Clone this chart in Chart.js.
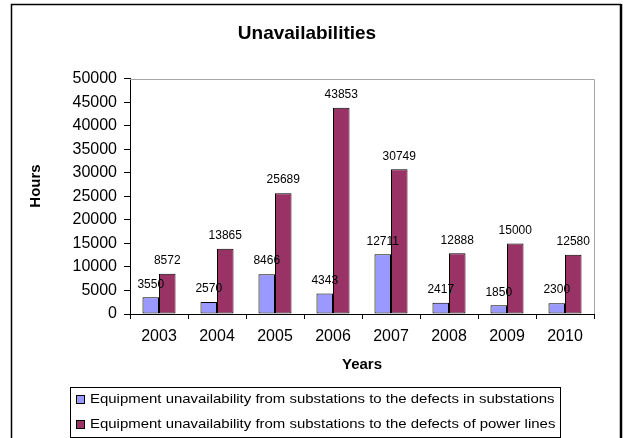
<!DOCTYPE html>
<html>
<head>
<meta charset="utf-8">
<script src="https://cdn.jsdelivr.net/npm/chart.js@4"></script>
<style>
  html, body { margin: 0; padding: 0; background: #fff; }
  #wrap { position: absolute; left: 0; top: 0; width: 624px; height: 438px; }
</style>
</head>
<body>
<div id="wrap"><canvas id="c" width="624" height="438"></canvas></div>
<script>
// Hours of unavailability per year
const years = ['2003', '2004', '2005', '2006', '2007', '2008', '2009', '2010'];
const substationDefects = [3550, 2570, 8466, 4343, 12711, 2417, 1850, 2300];
const powerLineDefects = [8572, 13865, 25689, 43853, 30749, 12888, 15000, 12580];
const seriesNames = [
  'Equipment unavailability from substations to the defects in substations',
  'Equipment unavailability from substations to the defects of power lines'
];
const yMin = 0, yMax = 50000, yStep = 5000;

const FONT = '"Liberation Sans", Arial, sans-serif';

// Outer frame and plot-area outline
const framePlugin = {
  id: 'frame',
  beforeDraw(chart) {
    const ctx = chart.ctx;
    ctx.save();
    ctx.fillStyle = '#fff';
    ctx.fillRect(0, 0, chart.width, chart.height);
    ctx.strokeStyle = '#000';
    ctx.lineWidth = 1.5;
    ctx.beginPath();
    ctx.moveTo(11.5, chart.height + 5);
    ctx.lineTo(11.5, 4.5);
    ctx.lineTo(621, 4.5);
    ctx.stroke();
    ctx.lineWidth = 2.5;
    ctx.beginPath();
    ctx.moveTo(621, 4);
    ctx.lineTo(621, chart.height + 5);
    ctx.stroke();
    ctx.restore();
  },
  beforeDatasetsDraw(chart) {
    const {ctx, chartArea: a} = chart;
    ctx.save();
    ctx.strokeStyle = '#a6a6a6';
    ctx.lineWidth = 1;
    ctx.beginPath();
    ctx.moveTo(a.left, Math.round(a.top) + 0.5);
    ctx.lineTo(Math.round(a.right) + 0.5, Math.round(a.top) + 0.5);
    ctx.lineTo(Math.round(a.right) + 0.5, a.bottom);
    ctx.stroke();
    ctx.restore();
  }
};

// Value labels above every bar
const valueLabels = {
  id: 'valueLabels',
  afterDatasetsDraw(chart) {
    const ctx = chart.ctx;
    ctx.save();
    ctx.font = '12px ' + FONT;
    ctx.fillStyle = '#000';
    ctx.textAlign = 'center';
    ctx.textBaseline = 'middle';
    chart.data.datasets.forEach((ds, i) => {
      chart.getDatasetMeta(i).data.forEach((bar, j) => {
        ctx.fillText(String(ds.data[j]), bar.x, bar.y - 13);
      });
    });
    ctx.restore();
  }
};

// "Hours" axis title and the boxed legend
const extras = {
  id: 'extras',
  afterDraw(chart) {
    const ctx = chart.ctx;
    ctx.save();
    ctx.fillStyle = '#000';
    ctx.font = 'bold 15px ' + FONT;
    ctx.translate(36, 186);
    ctx.rotate(-Math.PI / 2);
    ctx.textAlign = 'center';
    ctx.textBaseline = 'middle';
    ctx.fillText('Hours', 0, 0);
    ctx.restore();

    ctx.save();
    ctx.font = '13px ' + FONT;
    const stretch = 1.15;
    const ds = chart.data.datasets;
    const left = 70.5, top = 387.5, textX = 90, rowH = 25;
    let w = 0;
    ds.forEach(d => { w = Math.max(w, ctx.measureText(d.label).width * stretch); });
    const right = Math.round(textX + w + 5) + 0.5;
    const bottom = top + rowH * ds.length;
    ctx.fillStyle = '#fff';
    ctx.fillRect(left, top, right - left, bottom - top);
    ctx.strokeStyle = '#000';
    ctx.lineWidth = 1;
    ctx.strokeRect(left, top, right - left, bottom - top);
    ds.forEach((d, i) => {
      const cy = top + 12 + i * rowH;
      ctx.fillStyle = d.backgroundColor;
      ctx.fillRect(76.5, cy - 4, 8, 8);
      ctx.strokeRect(76.5, cy - 4, 8, 8);
      ctx.save();
      ctx.translate(textX, cy);
      ctx.scale(stretch, 1);
      ctx.fillStyle = '#000';
      ctx.textAlign = 'left';
      ctx.textBaseline = 'middle';
      ctx.fillText(d.label, 0, 0);
      ctx.restore();
    });
    ctx.restore();
  }
};

new Chart(document.getElementById('c'), {
  type: 'bar',
  data: {
    labels: years,
    datasets: [
      {
        label: seriesNames[0],
        data: substationDefects,
        backgroundColor: '#9999ff',
        borderColor: '#000',
        borderWidth: 1,
        borderSkipped: false
      },
      {
        label: seriesNames[1],
        data: powerLineDefects,
        backgroundColor: '#993366',
        borderColor: '#000',
        borderWidth: 1,
        borderSkipped: false
      }
    ]
  },
  options: {
    responsive: false,
    animation: false,
    devicePixelRatio: 1,
    layout: { padding: { left: 20, right: 30, top: 0, bottom: 64 } },
    datasets: { bar: { categoryPercentage: 0.57, barPercentage: 1.0 } },
    plugins: {
      legend: { display: false },
      tooltip: { enabled: false },
      title: {
        display: true,
        text: 'Unavailabilities',
        color: '#000',
        font: { family: FONT, size: 19, weight: 'bold' },
        padding: { top: 22, bottom: 34 }
      }
    },
    scales: {
      x: {
        afterFit(s) { s.height = 60; },
        grid: { offset: true, drawOnChartArea: false, drawTicks: true, tickLength: 5, color: '#000' },
        border: { display: true, color: '#000', width: 1 },
        ticks: { color: '#000', font: { family: FONT, size: 16 }, padding: 8, maxRotation: 0 },
        title: {
          display: true,
          text: 'Years',
          color: '#000',
          font: { family: FONT, size: 15, weight: 'bold' },
          padding: { top: 0, bottom: 0 }
        }
      },
      y: {
        min: yMin,
        max: yMax,
        afterFit(s) { s.width = 110; },
        grid: { drawOnChartArea: false, drawTicks: true, tickLength: 6, color: '#000' },
        border: { display: true, color: '#000', width: 1 },
        ticks: {
          stepSize: yStep,
          color: '#000',
          font: { family: FONT, size: 16 },
          padding: 7,
          callback: v => String(v)
        }
      }
    }
  },
  plugins: [framePlugin, valueLabels, extras]
});
</script>
</body>
</html>
